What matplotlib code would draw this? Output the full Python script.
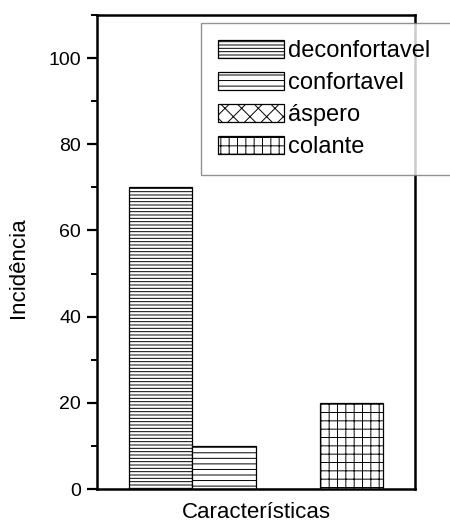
import matplotlib
matplotlib.use("Agg")
import matplotlib.pyplot as plt
from matplotlib.ticker import MultipleLocator

# Bar chart of characteristic incidence
labels = ["deconfortavel", "confortavel", "áspero", "colante"]
values = [70, 10, 0, 20]
hatches = ["-----", "---", "xx", "++"]

plt.rcParams["font.family"] = ["Liberation Sans", "DejaVu Sans"]
plt.rcParams["hatch.linewidth"] = 0.7

fig = plt.figure(figsize=(4.5, 5.26), dpi=100)
ax = fig.add_axes([97 / 450, 1 - 489 / 526, 318 / 450, 474 / 526])

for i, (lab, val, h) in enumerate(zip(labels, values, hatches)):
    ax.bar(i, val, width=1.0, facecolor="white", edgecolor="black",
           hatch=h, linewidth=0.9, label=lab)

ax.set_xlim(-1, 4)
ax.set_ylim(0, 110)
ax.set_xticks([])
ax.set_yticks([0, 20, 40, 60, 80, 100])
ax.yaxis.set_minor_locator(MultipleLocator(10))
ax.tick_params(axis="y", which="major", length=7.5, width=1.6, pad=4, labelsize=14)
ax.tick_params(axis="y", which="minor", length=4, width=1.4)
for s in ax.spines.values():
    s.set_linewidth(1.8)

ax.set_ylabel("Incidência", fontsize=16)
ax.yaxis.set_label_coords(-0.215, 0.466)
ax.set_xlabel("Características", fontsize=16, labelpad=9)

# legend box runs past the right edge of the figure, as in the original
leg = ax.legend(loc="upper left", bbox_to_anchor=(104 / 318, 0.5, 0.85, 0.483),
                mode="expand", fontsize=17, frameon=True, fancybox=False,
                handlelength=2.8, handleheight=0.8, handletextpad=0.2,
                labelspacing=0.42, borderpad=0.7, borderaxespad=0)
leg.get_frame().set_edgecolor("#777777")
leg.get_frame().set_linewidth(1.0)
leg.set_clip_on(False)

fig.savefig("out.png", dpi=100)
